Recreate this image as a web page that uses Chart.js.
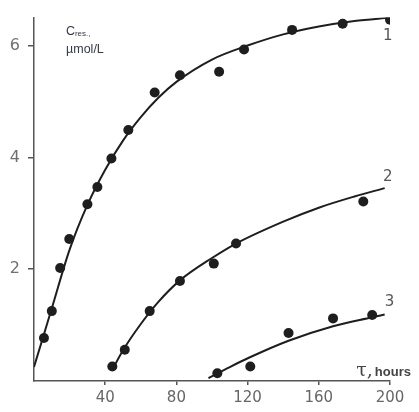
<!DOCTYPE html>
<html>
<head>
<meta charset="utf-8">
<script src="https://cdn.jsdelivr.net/npm/chart.js@4/dist/chart.umd.min.js"></script>
<style>
  body { margin: 0; background: #fff; }
  #wrap { width: 419px; height: 412px; }
</style>
</head>
<body>
<div id="wrap"><canvas id="c"></canvas></div>
<script>
// measured points (time in hours, concentration in µmol/L)
const hours1 = [5.6, 10, 14.7, 19.8, 30, 35.6, 43.5, 53, 67.8, 82, 104, 118, 145, 173.4, 200];
const conc1 = [0.77, 1.25, 2.02, 2.54, 3.16, 3.47, 3.98, 4.49, 5.16, 5.47, 5.53, 5.93, 6.28, 6.39, 6.46];
const hours2 = [44, 51, 65, 82, 101, 113.5, 185];
const conc2 = [0.26, 0.56, 1.25, 1.79, 2.1, 2.46, 3.21];
const hours3 = [103, 121.5, 143, 168, 190];
const conc3 = [0.14, 0.26, 0.86, 1.12, 1.18];

// fitted curves
const fitX1 = [0, 10, 20, 30, 40, 50, 60, 70, 80, 100, 120, 140, 160, 180, 200];
const fitY1 = [0.25, 1.3, 2.35, 3.15, 3.78, 4.3, 4.72, 5.07, 5.35, 5.75, 6.0, 6.2, 6.34, 6.44, 6.5];
const fitX2 = [44, 50, 60, 70, 82, 100, 113, 140, 160, 180, 197];
const fitY2 = [0.2, 0.55, 1.02, 1.42, 1.8, 2.2, 2.45, 2.85, 3.1, 3.3, 3.45];
const fitX3 = [98, 110, 121, 143, 168, 190, 197];
const fitY3 = [0.05, 0.25, 0.42, 0.72, 0.98, 1.14, 1.19];

const xTicks = [40, 80, 120, 160, 200];
const yTicks = [2, 4, 6];

const toXY = (xs, ys) => xs.map((x, i) => ({ x: x, y: ys[i] }));

const ink = "#1e1e1e";

const curve = (xs, ys) => ({
  data: toXY(xs, ys),
  showLine: true,
  pointRadius: 0,
  borderColor: ink,
  borderWidth: 2,
  cubicInterpolationMode: "monotone",
  fill: false,
});

const dots = (xs, ys) => ({
  data: toXY(xs, ys),
  showLine: false,
  pointRadius: 5,
  pointBackgroundColor: ink,
  pointBorderColor: ink,
  pointBorderWidth: 0,
});

// curve numbers and axis titles, placed in data units
const labelsPlugin = {
  id: "labels",
  afterDatasetsDraw(chart) {
    const { ctx } = chart;
    const sx = chart.scales.x;
    const sy = chart.scales.y;
    const px = (v) => sx.getPixelForValue(v);
    const py = (v) => sy.getPixelForValue(v);
    ctx.save();
    ctx.fillStyle = "#555";
    ctx.textBaseline = "alphabetic";
    ctx.font = "15px 'DejaVu Sans'";
    ctx.fillText("1", px(196), py(6.1));
    ctx.fillText("2", px(196), py(3.58));
    ctx.fillText("3", px(197), py(1.35));

    ctx.fillStyle = "#353848";
    ctx.font = "12.5px 'Liberation Sans'";
    ctx.fillText("C", px(18), py(6.19));
    ctx.font = "8px 'Liberation Sans'";
    ctx.fillText("res.,", px(23), py(6.17));
    ctx.font = "12.5px 'Liberation Sans'";
    ctx.fillText("\u00b5mol/L", px(18), py(5.86));

    ctx.fillStyle = "#444";
    ctx.font = "19px 'DejaVu Serif'";
    ctx.fillText("\u03c4,", px(181), py(0.09));
    ctx.font = "bold 13px 'Liberation Sans'";
    ctx.fillText("hours", px(191.5), py(0.09));
    ctx.restore();
  },
};

new Chart(document.getElementById("c"), {
  type: "scatter",
  data: {
    datasets: [
      curve(fitX1, fitY1),
      curve(fitX2, fitY2),
      curve(fitX3, fitY3),
      dots(hours1, conc1),
      dots(hours2, conc2),
      dots(hours3, conc3),
    ],
  },
  options: {
    responsive: true,
    maintainAspectRatio: false,
    animation: false,
    layout: { padding: { top: 10, right: 29, left: 0, bottom: 0 } },
    plugins: { legend: { display: false }, tooltip: { enabled: false } },
    scales: {
      x: {
        type: "linear",
        min: 0,
        max: 200,
        afterBuildTicks: (s) => { s.ticks = xTicks.map((v) => ({ value: v })); },
        afterFit: (s) => { s.height = 31; },
        grid: { drawOnChartArea: false, drawTicks: true, tickLength: 4, color: "#555", lineWidth: 1.5 },
        border: { color: "#555", width: 1.5 },
        ticks: { color: "#666", padding: 4, font: { family: "'DejaVu Sans'", size: 15 } },
      },
      y: {
        type: "linear",
        min: 0,
        max: 6.5,
        afterBuildTicks: (s) => { s.ticks = yTicks.map((v) => ({ value: v })); },
        afterFit: (s) => { s.width = 34; },
        grid: { drawOnChartArea: false, drawTicks: true, tickLength: 6, color: "#555", lineWidth: 1.5 },
        border: { color: "#555", width: 1.5 },
        ticks: { color: "#707070", padding: 8, font: { family: "'DejaVu Sans'", size: 16 } },
      },
    },
  },
  plugins: [labelsPlugin],
});
</script>
</body>
</html>
